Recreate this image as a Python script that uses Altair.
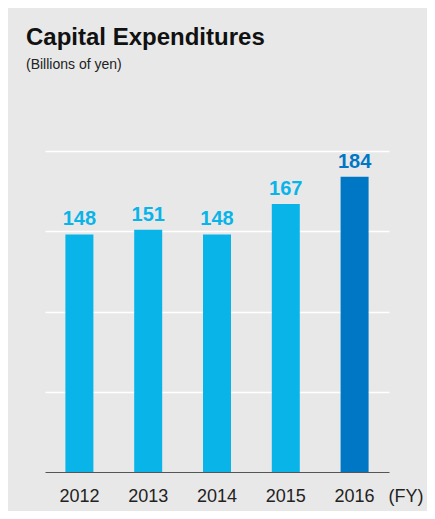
import altair as alt
import pandas as pd

years = ["2012", "2013", "2014", "2015", "2016"]
values = [148, 151, 148, 167, 184]
grid_values = [50, 100, 150, 200]

LIGHT = "#08b4e8"
DARK = "#0077c5"
FONT = "Liberation Sans"

df = pd.DataFrame({"year": years, "value": values})

color_cond = alt.condition(alt.datum.year == "2016", alt.value(DARK), alt.value(LIGHT))

x_enc = alt.X(
    "year:N",
    sort=years,
    scale=alt.Scale(paddingInner=0, paddingOuter=0),
    axis=alt.Axis(
        title="(FY)",
        titleX=343,
        titleY=29,
        titleAlign="left",
        titleAnchor="start",
        titleBaseline="alphabetic",
        titleFontWeight="normal",
        titleFontSize=18,
        titleColor="#222222",
        titleFont=FONT,
        labelAngle=0,
        labelFontSize=18,
        labelFont=FONT,
        labelColor="#222222",
        labelPadding=15,
        ticks=False,
        domainColor="#555555",
        domainWidth=1.2,
        grid=False,
    ),
)

y_enc = alt.Y(
    "value:Q",
    scale=alt.Scale(domain=[0, 200], nice=False),
    axis=alt.Axis(
        title=None,
        labels=False,
        ticks=False,
        domain=False,
        values=grid_values,
        grid=True,
        gridColor="white",
        gridWidth=1.6,
    ),
)

base = alt.Chart(df)

bars = base.mark_bar(size=28).encode(x=x_enc, y=y_enc, color=color_cond)

labels = base.mark_text(
    font=FONT, fontSize=20, fontWeight="bold", baseline="alphabetic", dy=-9
).encode(x=alt.X("year:N", sort=years), y="value:Q", text="value:Q", color=color_cond)

chart = (
    alt.layer(bars, labels)
    .properties(
        width=344,
        height=321,
        background="#e8e8e8",
        padding={"left": 37, "top": 143, "right": 38, "bottom": 39},
        autosize=alt.AutoSizeParams(type="none"),
        title=alt.TitleParams(
            text="Capital Expenditures",
            subtitle="(Billions of yen)",
            anchor="start",
            frame="group",
            dx=-19,
            offset=79,
            font=FONT,
            fontSize=24,
            fontWeight="bold",
            color="#111111",
            subtitleFont=FONT,
            subtitleFontSize=14,
            subtitleColor="#222222",
            subtitlePadding=8,
        ),
    )
    .configure_view(stroke=None)
)

chart.save("out.html", embed_options={"renderer": "svg", "actions": False})
